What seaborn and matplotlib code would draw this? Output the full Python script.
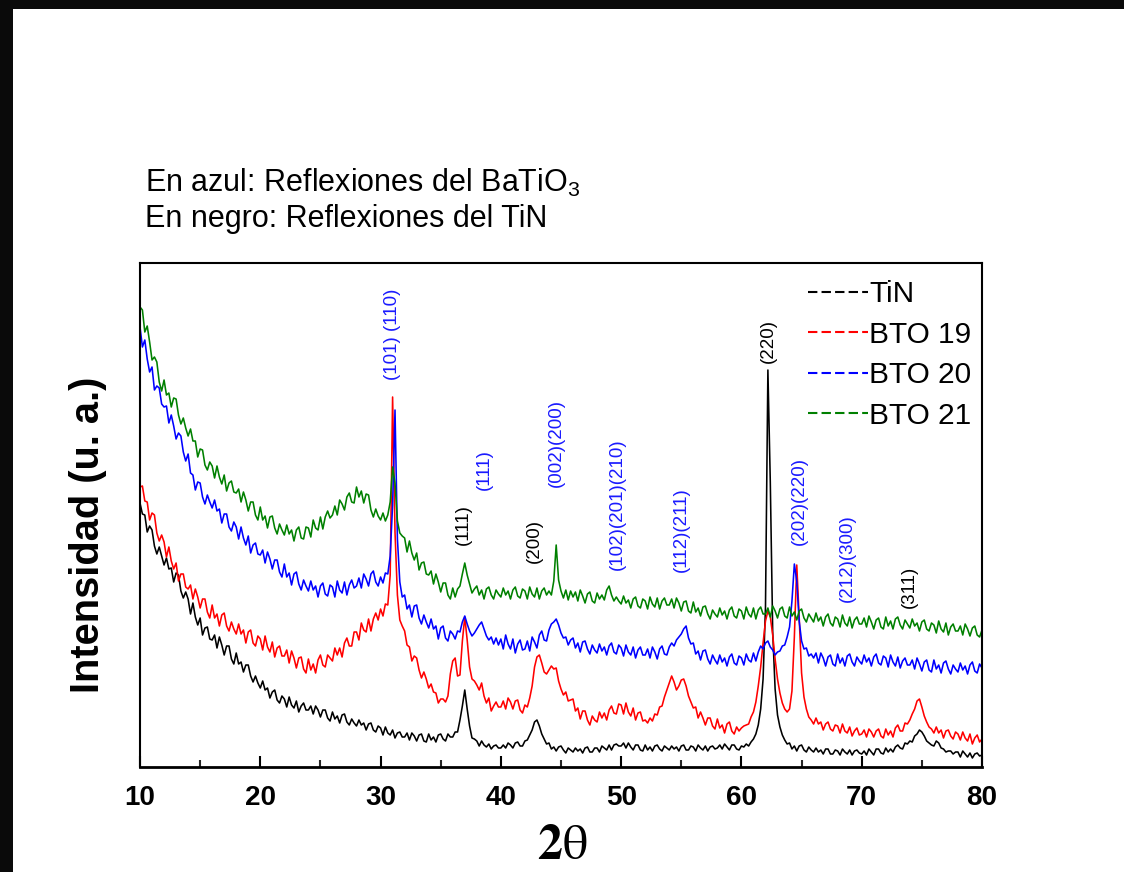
import numpy as np
import pandas as pd
import matplotlib
matplotlib.use("Agg")
import matplotlib.pyplot as plt
import seaborn as sns
from matplotlib.lines import Line2D
from matplotlib.patches import Rectangle
from matplotlib.ticker import MultipleLocator

# ---------------- data ----------------
# scan grid: 10 -> 80 deg, step 0.2 deg
two_theta = np.round(np.arange(10.0, 80.0001, 0.2), 1)

samples = ["TiN", "BTO 19", "BTO 20", "BTO 21"]

tin = [
    264, 253, 252, 235, 241, 237, 221, 213, 220, 211,
    202, 209, 198, 199, 185, 194, 192, 176, 169, 175,
    168, 153, 164, 150, 142, 149, 132, 139, 140, 128,
    127, 132, 119, 130, 122, 112, 121, 121, 108, 103,
    114, 103, 105, 95, 102, 102, 91, 85, 91, 84,
    79, 86, 77, 79, 69, 75, 77, 67, 64, 71,
    68, 60, 70, 62, 59, 66, 55, 61, 64, 57,
    57, 61, 53, 61, 57, 50, 57, 57, 49, 46,
    55, 48, 51, 44, 52, 53, 45, 42, 48, 44,
    41, 47, 42, 44, 37, 43, 44, 37, 35, 41,
    39, 32, 40, 34, 32, 37, 29, 34, 35, 30,
    30, 34, 27, 34, 31, 26, 32, 33, 26, 25,
    33, 27, 30, 25, 32, 33, 28, 26, 33, 30,
    30, 35, 35, 47, 61, 77, 58, 41, 29, 28,
    26, 21, 26, 22, 20, 23, 18, 21, 22, 19,
    19, 22, 19, 24, 22, 19, 24, 25, 21, 21,
    26, 27, 32, 37, 45, 47, 41, 33, 28, 23,
    24, 18, 20, 16, 20, 21, 17, 14, 19, 17,
    15, 19, 16, 18, 14, 19, 20, 15, 15, 19,
    19, 15, 21, 19, 17, 22, 17, 22, 23, 21,
    21, 24, 19, 24, 20, 17, 22, 22, 17, 16,
    22, 17, 20, 16, 21, 22, 18, 16, 21, 19,
    17, 21, 18, 20, 16, 21, 22, 17, 17, 21,
    20, 16, 22, 19, 17, 21, 16, 20, 21, 18,
    19, 22, 18, 23, 20, 17, 22, 22, 18, 17,
    21, 20, 23, 21, 25, 28, 33, 42, 58, 88,
    160, 397, 285, 135, 78, 52, 40, 32, 27, 23,
    24, 18, 21, 16, 21, 22, 17, 15, 20, 17,
    15, 19, 15, 17, 13, 18, 18, 13, 13, 17,
    16, 12, 18, 15, 13, 17, 12, 16, 17, 14,
    13, 16, 12, 18, 15, 12, 18, 18, 14, 13,
    19, 15, 18, 15, 20, 22, 19, 18, 24, 23,
    26, 25, 31, 33, 37, 35, 31, 26, 24, 22,
    21, 26, 24, 19, 18, 15, 16, 16, 13, 15,
    15, 10, 16, 13, 10, 14, 9, 13, 14, 11,
    12,
]

bto19 = [
    280, 281, 266, 265, 247, 254, 252, 234, 226, 232,
    225, 210, 220, 206, 198, 204, 186, 193, 193, 180,
    178, 182, 168, 178, 170, 159, 168, 168, 155, 149,
    162, 149, 153, 141, 152, 154, 141, 136, 145, 138,
    133, 143, 133, 137, 124, 135, 137, 124, 121, 131,
    128, 117, 131, 120, 115, 125, 110, 119, 121, 111,
    111, 117, 104, 116, 109, 99, 109, 110, 98, 94,
    108, 97, 103, 94, 107, 112, 102, 100, 112, 109,
    106, 119, 112, 119, 110, 124, 129, 121, 121, 135,
    135, 127, 144, 137, 135, 148, 136, 148, 154, 147,
    158, 151, 163, 162, 192, 370, 235, 172, 147, 141,
    136, 122, 120, 106, 111, 109, 97, 89, 95, 88,
    79, 83, 75, 74, 64, 68, 68, 65, 71, 93,
    106, 109, 91, 92, 126, 150, 127, 100, 88, 86,
    82, 77, 84, 71, 64, 69, 56, 61, 65, 60,
    60, 66, 58, 69, 65, 58, 66, 67, 57, 54,
    62, 60, 69, 81, 100, 110, 112, 104, 95, 93,
    97, 101, 98, 99, 86, 78, 72, 75, 66, 67,
    68, 56, 59, 48, 56, 56, 47, 42, 51, 47,
    45, 55, 49, 54, 47, 57, 61, 54, 53, 63,
    62, 53, 64, 55, 51, 59, 47, 54, 55, 46,
    47, 44, 49, 46, 53, 52, 60, 61, 70, 77,
    84, 91, 85, 77, 81, 87, 88, 81, 71, 65,
    59, 60, 49, 55, 49, 42, 49, 49, 41, 38,
    48, 39, 42, 34, 43, 45, 36, 33, 40, 36,
    39, 41, 42, 43, 50, 55, 65, 81, 100, 124,
    146, 156, 150, 132, 108, 88, 74, 64, 58, 55,
    58, 76, 130, 202, 150, 94, 70, 58, 50, 47,
    43, 49, 43, 45, 37, 43, 45, 38, 36, 42,
    41, 34, 43, 36, 34, 40, 31, 36, 39, 32,
    33, 37, 30, 38, 35, 30, 36, 38, 31, 29,
    38, 32, 36, 30, 39, 42, 36, 36, 44, 43,
    47, 53, 58, 66, 68, 60, 51, 45, 40, 38,
    34, 40, 34, 37, 29, 36, 37, 31, 28, 35,
    33, 27, 35, 29, 26, 33, 23, 29, 32, 25,
    28,
]

bto20 = [
    440, 420, 427, 408, 395, 400, 377, 381, 379, 363,
    360, 361, 344, 352, 341, 328, 334, 331, 315, 306,
    313, 294, 292, 277, 285, 284, 270, 263, 272, 265,
    259, 267, 256, 258, 244, 253, 253, 240, 236, 245,
    240, 228, 240, 229, 222, 231, 214, 222, 224, 213,
    212, 217, 204, 215, 208, 198, 207, 207, 195, 190,
    203, 190, 194, 182, 193, 195, 183, 177, 187, 181,
    176, 186, 177, 181, 170, 181, 184, 173, 171, 182,
    180, 170, 186, 177, 174, 185, 172, 182, 187, 179,
    181, 189, 179, 193, 188, 181, 193, 196, 185, 181,
    190, 184, 194, 193, 211, 262, 357, 228, 185, 170,
    172, 158, 162, 150, 161, 162, 149, 143, 152, 145,
    139, 148, 138, 141, 128, 139, 141, 129, 126, 136,
    133, 128, 136, 135, 145, 151, 143, 136, 131, 134,
    138, 142, 145, 138, 131, 127, 130, 123, 129, 122,
    128, 118, 132, 123, 118, 128, 114, 123, 127, 117,
    118, 126, 116, 130, 125, 119, 132, 136, 127, 126,
    137, 143, 145, 148, 142, 134, 129, 130, 122, 127,
    129, 119, 124, 115, 125, 126, 118, 113, 122, 117,
    114, 123, 116, 120, 112, 121, 124, 115, 113, 122,
    119, 111, 122, 115, 112, 120, 109, 117, 120, 112,
    112, 118, 109, 120, 115, 108, 118, 121, 113, 112,
    120, 124, 121, 127, 130, 133, 138, 141, 129, 123,
    124, 113, 116, 107, 116, 117, 108, 103, 112, 107,
    103, 112, 105, 109, 101, 110, 113, 104, 102, 111,
    109, 102, 113, 107, 105, 114, 106, 115, 121, 118,
    124, 126, 120, 117, 112, 115, 116, 121, 122, 130,
    140, 166, 203, 186, 146, 126, 118, 119, 111, 113,
    109, 114, 104, 114, 109, 101, 110, 112, 103, 101,
    113, 104, 109, 101, 111, 113, 105, 101, 110, 106,
    103, 112, 105, 109, 101, 110, 113, 104, 102, 111,
    109, 100, 112, 105, 101, 110, 99, 106, 109, 102,
    102, 107, 98, 109, 103, 96, 105, 107, 97, 95,
    107, 98, 102, 94, 104, 106, 98, 93, 102, 98,
    95, 104, 97, 101, 93, 102, 105, 96, 94, 103,
    99,
]

bto21 = [
    460, 457, 435, 441, 425, 407, 410, 405, 385, 376,
    387, 372, 374, 360, 369, 368, 352, 343, 349, 339,
    331, 338, 326, 326, 310, 318, 317, 302, 297, 305,
    301, 289, 301, 290, 283, 292, 276, 284, 286, 275,
    274, 278, 265, 275, 267, 256, 265, 265, 252, 247,
    260, 247, 251, 239, 250, 251, 239, 233, 243, 237,
    232, 242, 233, 237, 226, 237, 240, 229, 228, 240,
    239, 230, 247, 239, 237, 250, 238, 250, 256, 249,
    252, 261, 252, 267, 263, 257, 270, 274, 265, 264,
    280, 270, 276, 264, 273, 272, 257, 250, 258, 251,
    247, 254, 246, 252, 265, 300, 284, 246, 234, 231,
    229, 215, 226, 214, 207, 214, 197, 204, 205, 193,
    192, 196, 183, 193, 185, 175, 184, 184, 172, 168,
    179, 170, 178, 181, 193, 204, 192, 183, 174, 178,
    181, 172, 177, 168, 178, 180, 172, 168, 177, 173,
    170, 179, 172, 176, 168, 177, 180, 171, 169, 178,
    176, 168, 180, 173, 170, 179, 168, 176, 179, 172,
    176, 172, 186, 222, 187, 176, 169, 177, 167, 176,
    170, 175, 166, 177, 171, 164, 173, 175, 166, 164,
    174, 168, 172, 167, 177, 181, 172, 166, 170, 166,
    163, 171, 164, 167, 159, 168, 170, 161, 159, 168,
    166, 158, 170, 163, 160, 169, 158, 166, 169, 162,
    162, 168, 159, 169, 164, 156, 165, 166, 156, 154,
    165, 155, 159, 151, 160, 161, 153, 148, 157, 153,
    150, 159, 152, 156, 148, 157, 160, 151, 149, 158,
    156, 148, 160, 153, 150, 159, 148, 157, 160, 153,
    153, 159, 150, 161, 156, 149, 158, 160, 151, 149,
    160, 151, 155, 147, 156, 158, 149, 145, 153, 149,
    145, 154, 146, 150, 141, 150, 153, 144, 141, 150,
    148, 140, 152, 144, 141, 150, 139, 147, 150, 143,
    143, 149, 140, 151, 145, 138, 147, 149, 140, 138,
    150, 141, 146, 138, 148, 150, 142, 138, 147, 143,
    139, 148, 141, 144, 136, 145, 147, 138, 136, 144,
    142, 134, 146, 138, 135, 144, 132, 140, 143, 136,
    136, 141, 132, 143, 138, 131, 139, 141, 132, 130,
    137,
]

# reflection labels (text, 2theta, phase)
peak_labels = ["(101) (110)", "(111)", "(111)", "(200)", "(002)(200)",
               "(102)(201)(210)", "(112)(211)", "(220)", "(202)(220)",
               "(212)(300)", "(311)"]
peak_phase = ["BTO", "TiN", "BTO", "TiN", "BTO", "BTO", "BTO", "TiN",
              "BTO", "BTO", "TiN"]
peak_pos = [31.0, 36.85, 38.6, 42.8, 44.65, 49.65, 54.97, 62.2, 64.8, 68.8, 74.0]

# ---------------- styling / layout ----------------
colors = {"TiN": "#000000", "BTO 19": "#ff0000", "BTO 20": "#0000ff", "BTO 21": "#008000"}
label_colors = {"TiN": "#000000", "BTO": "#1a1aff"}
label_bottom = [387, 222, 277, 204, 280, 197, 195, 404, 222, 165, 159]

sns.set_theme(style="white")
plt.rcParams["font.family"] = ["Liberation Sans", "DejaVu Sans"]
plt.rcParams["mathtext.fontset"] = "custom"
plt.rcParams["mathtext.rm"] = "Liberation Sans"
plt.rcParams["text.color"] = "black"

W, H = 1124, 872
fig = plt.figure(figsize=(W / 100, H / 100), dpi=100)
fig.patch.set_facecolor("white")
ax = fig.add_axes([140 / W, (H - 767) / H, (982 - 140) / W, (767 - 263) / H])

df = pd.concat([
    pd.DataFrame({"two_theta": two_theta, "intensity": vals, "muestra": name})
    for name, vals in zip(samples, [tin, bto19, bto20, bto21])
], ignore_index=True)

sns.lineplot(data=df, x="two_theta", y="intensity", hue="muestra",
             hue_order=samples, palette=colors, estimator=None, sort=False,
             legend=False, linewidth=1.15, ax=ax)

ax.set_xlim(10, 80)
ax.set_ylim(0, 504)
ax.set_xlabel("")
ax.set_ylabel("")
ax.set_yticks([])
ax.xaxis.set_major_locator(MultipleLocator(10))
ax.xaxis.set_minor_locator(MultipleLocator(5))
ax.tick_params(axis="x", which="major", direction="in", length=8, width=1.5,
               labelsize=20, pad=12.7, colors="black", bottom=True, top=False)
ax.tick_params(axis="x", which="minor", direction="in", length=5, width=1.5,
               bottom=True, top=False)
for lab in ax.get_xticklabels():
    lab.set_fontweight("bold")
for sp in ax.spines.values():
    sp.set_visible(True)
    sp.set_color("black")
    sp.set_linewidth(1.5)
ax.spines["bottom"].set_linewidth(2.0)

# reflection labels
for txt, pos, ph, yb in zip(peak_labels, peak_pos, peak_phase, label_bottom):
    ax.text(pos, yb, txt, rotation=90, ha="center", va="bottom",
            fontsize=13.5, color=label_colors[ph])

# legend with dashed handles
handles = [Line2D([], [], color=colors[s], lw=1.5, ls=(0, (4.5, 2.0))) for s in samples]
ax.legend(handles, samples, loc="upper left", bbox_to_anchor=((808 - 140) / 842, 0.966),
          frameon=False, borderpad=0, borderaxespad=0, fontsize=21.5,
          handlelength=2.0, handletextpad=0.05, labelspacing=0.42, labelcolor="black")

# header text
fig.text(145 / W, 1 - 192 / H, r"En azul: Reflexiones del BaTiO$_\mathregular{3}$",
         fontsize=22, va="baseline", ha="left", color="black")
fig.text(145 / W, 1 - 227 / H, "En negro: Reflexiones del TiN",
         fontsize=22, va="baseline", ha="left", color="black")

# axis titles
fig.text(88 / W, 1 - 535 / H, "Intensidad (u. a.)", rotation=90, ha="center",
         va="center", fontsize=28.6, fontweight="bold", color="black")
fig.text(562 / W, 1 - 859 / H, r"$\mathbf{2}\mathrm{\theta}$", ha="center",
         va="baseline", fontsize=36, color="black", math_fontfamily="stix")

# black frame strips of the original screenshot
fig.add_artist(Rectangle((0, 1 - 9 / H), 1, 9 / H, transform=fig.transFigure,
                         facecolor="#0a0a0a", edgecolor="none", zorder=10))
fig.add_artist(Rectangle((0, 0), 13 / W, 1, transform=fig.transFigure,
                         facecolor="#0a0a0a", edgecolor="none", zorder=10))

fig.savefig("out.png", dpi=100)
